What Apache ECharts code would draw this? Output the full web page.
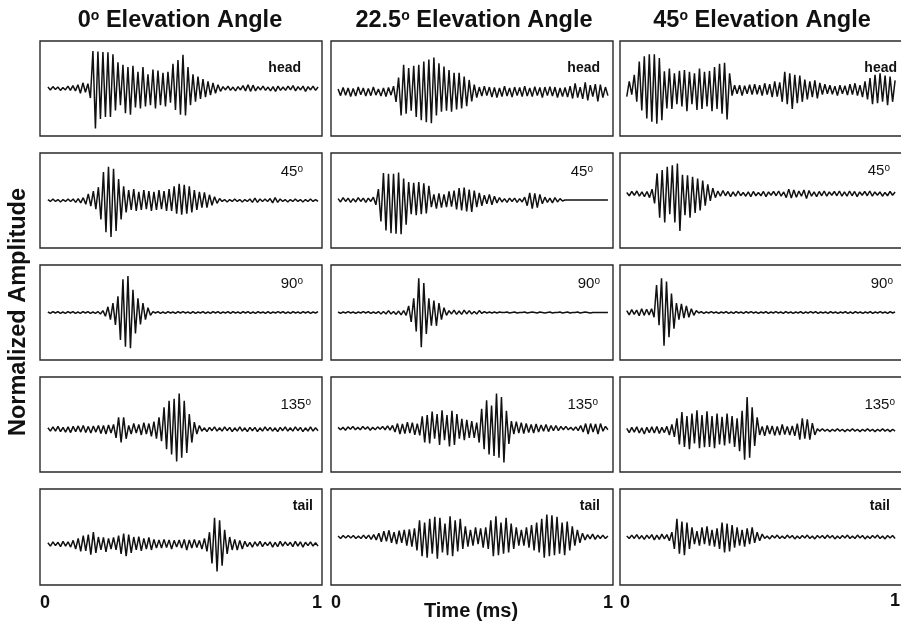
<!DOCTYPE html>
<html><head><meta charset="utf-8">
<script src="https://cdn.jsdelivr.net/npm/echarts@6/dist/echarts.min.js"></script>
<style>html,body{margin:0;padding:0;background:#fff}#c{width:901px;height:627px}</style>
</head><body><div id="c"></div>
<script>
// ---- labels ----
const colAngles = ['0', '22.5', '45'];
const rowLabels = ['head', '45', '90', '135', 'tail'];
const xTickLabels = ['0', '1'];
const yAxisTitle = 'Normalized Amplitude';
const xAxisTitle = 'Time (ms)';

// ---- waveforms (normalized amplitude, -100..100, successive extrema over 0..1 ms) ----
const w_head_0 = [3,-3,4,-2,3,-4,2,-3,5,-4,6,-5,
 8,-10,12,-8,10,
 -20,79,-84,78,-64,77,-60,76,-60,72,-46,55,
 -35,50,-52,45,-55,48,-40,35,-42,45,-38,30,-35,40,-42,38,-35,33,-38,35,-30,
 52,-45,60,-55,71,-57,45,
 -35,30,-28,25,-22,20,-18,15,-14,12,-10,8,-6,
 4,-3,5,-4,3,-5,4,-3,6,-5,8,-6,7,-5,4,-3,5,-4,3,-5,4,-6,5,-4,3,-4,5,-3,6,-5,4,-3,5,-6,4,-3,5,-4,3];
const w_head_225 = [6,-8,9,-7,8,-10,7,-9,10,-6,8,-9,7,-8,10,-7,6,-9,8,-10,9,-7,12,
 -21,30,-50,57,-46,50,-40,55,-53,57,-60,64,-64,68,-66,72,-50,60,-42,53,-40,46,-42,40,-37,40,-35,32,-30,25,-20,15,
 -12,10,-9,12,-8,10,-11,9,-12,8,-10,12,-9,8,-11,10,-8,9,-10,12,-9,8,-10,11,-8,9,-12,10,-8,11,-9,10,-12,8,-10,9,-11,12,-14,18,-12,10,-15,20,-18,14,-10,16,-20,15,-12,10,-8];
const w_head_45 = [-14,18,-10,32,-25,60,-43,71,-60,75,-67,75,-71,67,-64,
 39,-39,45,-40,35,-30,40,-35,42,-45,38,-30,35,-42,45,-40,38,-35,40,-45,48,-40,55,-50,57,-62,35,
 -12,10,-8,10,-12,9,-8,11,-10,12,-9,10,-12,14,-10,12,-15,18,-14,16,
 -25,38,-30,35,-40,32,-28,30,-25,22,-20,18,-15,20,-18,15,
 -10,12,-8,10,-9,8,-12,10,-8,9,-11,12,-10,14,-12,10,-15,18,-20,
 25,-30,32,-28,35,-25,30,-32,28,-25,20];

const w_45_0 = [2,-2,3,-2,2,-3,2,-2,3,-2,3,-4,4,-5,6,-8,
 14,-12,20,-18,
 28,-40,60,-67,71,-77,67,-64,45,
 -40,30,-25,22,-20,24,-22,18,-20,22,-18,20,-22,18,-20,22,-18,20,-22,24,-22,
 30,-28,35,-30,33,-28,30,-25,22,
 -20,18,-15,17,-15,12,-10,8,-6,4,
 -2,2,-3,2,-2,3,-2,2,-3,2,-2,3,-4,5,-4,3,-2,3,-2,4,-5,6,-4,3,-2,2,-3,2,-2,3,-2,2,-3,2,-2,3,-2,2,-2];
const w_45_225 = [3,-4,5,-3,4,-5,3,-4,5,-3,4,-5,4,-3,6,
 -10,23,
 -45,57,-64,55,-70,55,-71,58,-72,45,-52,
 38,-30,36,-32,38,-30,35,-28,30,
 -15,12,-18,14,-16,12,-15,18,-14,20,
 -20,25,-22,26,-24,22,-25,20,-15,
 15,-12,10,-8,12,-10,8,-6,5,
 -4,3,-5,4,-3,4,-5,3,-4,6,
 -12,15,-18,14,-16,12,-8,
 6,-5,4,-6,5,-4,3,-2,
 0,0,0,0,0,0,0,0,0,0,0,0,0,0,0,0,0,0];
const w_45_45 = [3,-4,5,-3,6,-5,4,-6,5,-8,10,
 -20,43,-50,50,-60,57,-43,60,-60,64,-78,
 40,-45,39,-50,36,-40,32,-35,28,-25,20,-15,12,
 -8,6,-5,7,-4,5,-6,4,-5,6,-4,3,-5,4,-6,5,-4,3,-4,5,-6,4,-3,5,-4,6,-5,4,-8,10,-9,8,-7,6,-5,8,-10,7,-5,4,-6,5,-4,6,-5,4,-3,5,-4,6,-5,4,-5,6,-4,5,-6,4,-3,5,-4,6,-5,4,-3,4,-5,3,-4,5,-3,4];

const w_90_0 = [1,-2,2,-1,2,-2,1,-2,2,-1,2,-2,1,-2,2,-1,2,-2,1,-2,2,-3,4,
 -8,12,-15,20,
 -26,34,-58,70,-72,77,-75,48,-44,30,
 -25,20,-15,10,-6,
 2,-1,2,-2,1,-2,2,-1,1,-2,2,-1,2,-1,1,-2,2,-2,1,-1,2,-2,1,-2,2,-1,2,-2,1,-1,2,-2,2,-1,1,-2,2,-1,2,-2,1,-2,2,-1,1,-2,2,-2,1,-1,2,-1,2,-2,1,-2,2,-1,1,-2,2,-1,2,-2,1,-1,2];
const w_90_225 = [1,-2,1,-1,2,-1,1,-2,1,-1,2,-1,2,-2,1,-2,2,-3,2,-3,4,-3,2,-4,3,-5,4,-6,
 14,-20,30,-40,72,-73,62,-45,
 30,-28,25,-28,20,-15,10,-6,
 4,-3,5,-4,3,-4,5,-3,4,-3,2,-3,4,-2,2,
 -1,1,-1,1,-1,1,0,0,1,-1,0,1,-1,0,0,1,-1,0,1,0,-1,1,0,-1,0,1,-1,0,0,1,-1,0,1,-1,0,0,1,-1,0,1,0,-1,0,0,0,0,0,0,0];
const w_90_45 = [4,-5,6,-4,5,-7,8,-6,7,-5,8,-10,
 58,-27,72,-70,65,-52,40,-34,
 20,-15,18,-12,14,-10,8,-6,4,
 -1,2,-2,1,-1,2,-1,1,-2,1,-1,2,-2,1,-2,2,-1,1,-2,2,-1,2,-1,1,-2,1,-1,2,-2,1,-1,2,-1,1,-2,2,-1,1,-2,1,-1,2,-2,1,-1,2,-1,2,-2,1,-1,1,-2,2,-1,1,-2,1,-1,2,-2,1,-2,2,-1,1,-2,1,-1,2,-2,1,-1,2,-1,1,-2,2,-1,1];

const w_135_0 = [3,-4,5,-4,6,-5,4,-6,5,-7,6,-5,7,-6,8,-7,6,-8,7,-6,8,-9,8,-10,9,-8,10,
 -18,25,-28,25,-20,
 8,-10,12,-8,10,-12,14,-10,12,-15,16,-20,
 25,-25,46,-42,60,-53,64,-68,75,-60,60,-50,32,-28,
 15,-10,8,
 -4,3,-5,4,-3,5,-4,3,-4,5,-3,4,-5,3,-4,5,-4,3,-5,4,-3,4,-5,3,-4,5,-3,4,-4,3,-5,4,-3,5,-4,3,-4,5,-3,4,-5,3,-4,5,-4,3,-3];
const w_135_225 = [2,-3,2,-4,3,-2,4,-3,2,-3,4,-2,3,-4,2,-3,3,-2,4,-3,5,-4,6,
 -8,10,-12,9,-11,13,-10,12,-14,10,-15,
 25,-30,28,-32,35,-22,30,-35,38,-25,28,-38,37,-35,30,
 -22,20,-25,18,-20,15,-20,12,
 -30,41,-44,59,-55,48,-58,73,-62,66,-72,37,-33,
 15,-12,14,-10,12,-11,10,-9,8,-10,9,-8,7,-6,8,-7,6,-5,6,-5,4,
 -3,4,-3,2,-4,3,-5,6,-8,10,-12,10,-8,9,-12,10,-6,4,-3];
const w_135_45 = [4,-5,6,-4,7,-6,5,-8,6,-5,7,-6,8,-7,6,-5,8,-10,12,-14,
 25,-30,38,-35,30,-40,35,-28,42,-38,32,-36,40,-35,30,-38,35,-30,28,-32,35,-28,30,-35,25,
 -44,41,-62,70,-58,48,-33,27,
 -10,8,-12,10,-8,9,-11,8,-10,12,-9,8,-10,9,-12,14,
 -20,25,-18,23,-20,15,-10,
 3,-2,3,-2,2,-3,2,-2,3,-2,2,-3,2,-2,3,-2,2,-3,2,-2,3,-2,2,-3,2,-2,3,-2,2,-3,2,-2];

const w_tail_0 = [3,-4,5,-3,4,-5,6,-4,5,-6,
 8,-10,12,-15,18,-14,20,-22,25,-18,15,-12,14,-16,12,-10,14,-12,18,-20,22,-25,20,-18,15,-12,16,-14,12,-10,14,-12,10,-8,9,
 -8,10,-7,9,-10,8,-6,9,-8,10,-12,9,-8,10,-7,8,-10,12,-15,
 25,-40,55,-57,50,-45,30,-20,
 15,-12,10,-12,8,-10,6,
 -5,4,-6,5,-4,6,-5,4,-3,5,-6,4,-5,6,-4,5,-3,4,-5,6,-4,5,-6,4,-3,5,-4,3,-4];
const w_tail_225 = [2,-3,3,-2,3,-2,3,-3,2,-3,4,-3,4,-5,5,-6,
 8,-10,12,-9,14,-12,10,-15,13,-12,15,-18,16,-20,18,
 -28,35,-40,30,-43,38,-35,42,-45,40,-32,28,-38,43,-40,35,-30,38,-25,22,-20,
 15,-18,20,-15,18,-22,20,-25,
 35,-40,43,-38,30,-35,40,-32,28,-25,20,-18,
 15,-18,20,-22,25,-28,30,-32,
 38,-43,47,-40,45,-38,42,-35,30,-38,32,-28,22,-18,15,-12,
 8,-6,5,-4,6,-5,4,-3,4,-3,2];
const w_tail_45 = [2,-3,4,-3,5,-4,3,-5,4,-3,5,-6,4,-5,6,-4,5,-8,10,
 -25,38,-35,32,-38,30,-25,20,-15,12,
 -18,20,-15,22,-18,15,-20,18,
 -25,30,-32,28,-30,25,-22,20,-18,15,
 -20,18,-15,20,-12,10,-8,6,
 -3,2,-4,3,-2,4,-3,2,-3,4,-2,3,-4,2,-3,3,-2,4,-3,2,-4,3,-2,3,-3,4,-2,3,-4,2,-3,3,-2,4,-3,2,-3,4,-2,3,-4,2,-3,3,-2,4,-3,2,-4,3,-2,3,-3];

// DC offset of each trace (same units), rows x columns
const baselineOffsets = [[0,-7,-3],[0,1,14],[0,0,0],[-10,-8,-12],[-15,0,0]];
// time span covered by each column's trace (ms)
const traceStart = [0.028, 0.025, 0.024];
const traceEnd = [0.986, 0.982, 0.979];

const waves = [
  [w_head_0, w_head_225, w_head_45],
  [w_45_0, w_45_225, w_45_45],
  [w_90_0, w_90_225, w_90_45],
  [w_135_0, w_135_225, w_135_45],
  [w_tail_0, w_tail_225, w_tail_45]
];

// ---- layout ----
const colLeft = [40, 331, 620], colWidth = [282, 282, 281];
const rowTop = [41, 153, 265, 377, 489], rowHeight = [95, 95, 95, 95, 96];
const FONT = "'Liberation Sans', Arial, Helvetica, sans-serif";
const labelPos = [
  [[301,68],[600,68],[897,68]],
  [[303,172],[593,172],[890,171]],
  [[303,284],[600,284],[893,284]],
  [[311,405],[598,405],[895,405]],
  [[313,506],[600,506],[890,506]]
];
const titleCenters = [180, 474, 762];

const grids = [], xAxes = [], yAxes = [], series = [];
let k = 0;
for (let r = 0; r < 5; r++) {
  for (let c = 0; c < 3; c++) {
    // last column runs off the right edge of the picture, as in the original
    const extra = c === 2 ? 6 : 0;
    grids.push({left: colLeft[c], top: rowTop[r], width: colWidth[c] + extra, height: rowHeight[r],
      outerBoundsMode: 'none', containLabel: false,
      show: true, borderColor: '#2a2a2a', borderWidth: 1.4, backgroundColor: 'transparent'});
    xAxes.push({type: 'value', gridIndex: k, min: 0, max: 1 + extra / colWidth[c], interval: 1,
      axisLine: {show: false}, axisTick: {show: false}, splitLine: {show: false},
      axisLabel: {show: r === 4, margin: 9, color: '#111', fontSize: 18, fontWeight: 'bold', fontFamily: FONT,
        alignMinLabel: 'left', alignMaxLabel: 'right',
        formatter: v => (v === 0 ? xTickLabels[0] : (v === 1 && c !== 2 ? xTickLabels[1] : ''))}});
    yAxes.push({type: 'value', gridIndex: k, min: -100, max: 100, show: false, splitLine: {show: false}});
    const arr = waves[r][c], n = arr.length, t0 = traceStart[c], t1 = traceEnd[c], off = baselineOffsets[r][c];
    series.push({type: 'line', xAxisIndex: k, yAxisIndex: k, showSymbol: false, silent: true, animation: false,
      lineStyle: {color: '#111', width: 1.5}, clip: false,
      data: arr.map((v, i) => [t0 + i * (t1 - t0) / (n - 1), v + off])});
    k++;
  }
}

const graphics = [];
// column titles
for (let c = 0; c < 3; c++) {
  graphics.push({type: 'text', x: titleCenters[c], y: 21, style: {
    text: '{m|' + colAngles[c] + '}{s|o}{m| Elevation Angle}',
    textAlign: 'center', textVerticalAlign: 'middle', fill: '#111',
    rich: {m: {fontSize: 23.5, fontWeight: 'bold', fontFamily: FONT, fill: '#111', verticalAlign: 'bottom'},
           s: {fontSize: 14, fontWeight: 'bold', fontFamily: FONT, fill: '#111', verticalAlign: 'top'}}}});
}
// panel labels
for (let r = 0; r < 5; r++) {
  for (let c = 0; c < 3; c++) {
    const lab = rowLabels[r];
    const isWord = (lab === 'head' || lab === 'tail');
    const txt = isWord ? '{w|' + lab + '}' : '{d|' + lab + '}{s|o}';
    graphics.push({type: 'text', x: labelPos[r][c][0], y: labelPos[r][c][1], style: {
      text: txt, textAlign: 'right', textVerticalAlign: 'middle', fill: '#111',
      rich: {w: {fontSize: 14, fontWeight: 'bold', fontFamily: FONT, fill: '#111'},
             d: {fontSize: 15, fontFamily: FONT, fill: '#111', verticalAlign: 'bottom'},
             s: {fontSize: 10, fontFamily: FONT, fill: '#111', verticalAlign: 'top'}}}});
  }
}
// "1" tick of the right column (its panel runs off the edge)
graphics.push({type: 'text', x: 900, y: 601, style: {
  text: xTickLabels[1], textAlign: 'right', textVerticalAlign: 'middle', fill: '#111', font: 'bold 18px ' + FONT}});
graphics.push({type: 'text', x: 19, y: 312, rotation: Math.PI / 2, style: {
  text: yAxisTitle, textAlign: 'center', textVerticalAlign: 'middle', fill: '#111',
  font: 'bold 23.5px ' + FONT}});
graphics.push({type: 'text', x: 471, y: 611, style: {
  text: xAxisTitle, textAlign: 'center', textVerticalAlign: 'middle', fill: '#111',
  font: 'bold 20px ' + FONT}});

const chart = echarts.init(document.getElementById('c'), null, {renderer: 'canvas'});
chart.setOption({animation: false, backgroundColor: '#fff', grid: grids, xAxis: xAxes, yAxis: yAxes, series: series, graphic: graphics});
</script></body></html>
